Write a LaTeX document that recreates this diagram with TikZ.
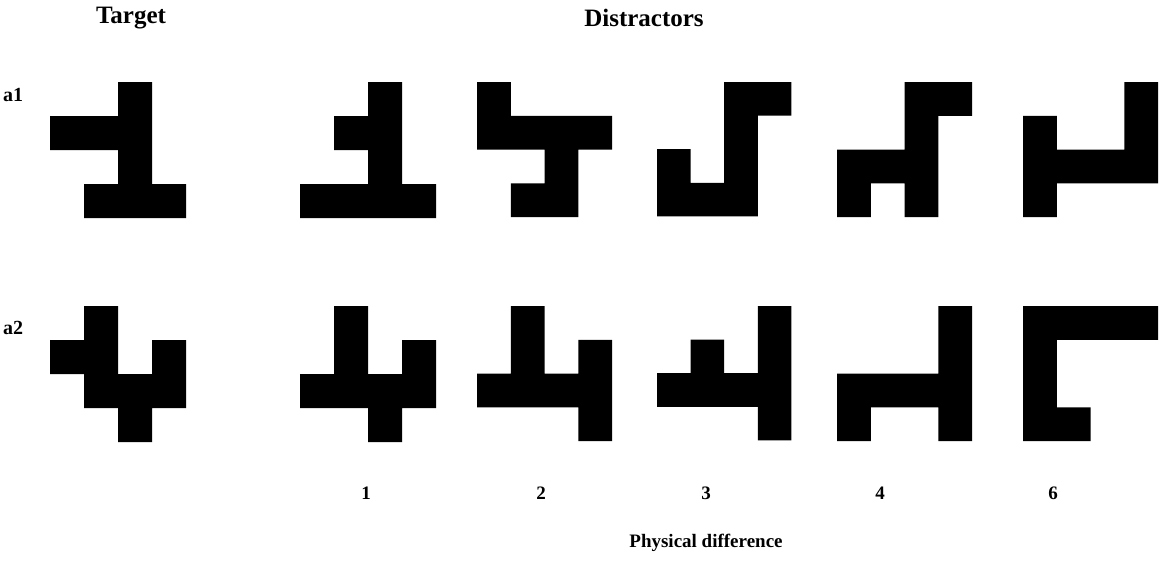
\documentclass[tikz,border=0pt]{standalone}
\usepackage{fontspec}
\setmainfont{Liberation Serif}
\begin{document}
\begin{tikzpicture}[x=1pt,y=-1pt,
  lbl/.style={font=\fontsize{20}{24}\selectfont\bfseries, inner sep=0pt, anchor=center},
  head/.style={font=\fontsize{25}{30}\selectfont\bfseries, inner sep=0pt, anchor=center},
  foot/.style={font=\fontsize{19}{23}\selectfont\bfseries, inner sep=0pt, anchor=center},
  shapefill/.style={fill=black}]
\useasboundingbox (0,0) rectangle (1166,563);
\newcommand\pshape[4]{\fill[shapefill] \foreach \c/\r in {#4} { (#1+\c*#3, #2+\r*#3) rectangle ++(#3,#3) };}
% headers
\node[head] (target) at (131,18) {Target};
\node[head] (distr) at (644,18) {Distractors};
\node[lbl] (a1) at (13,95) {a1};
\node[lbl] (a2) at (13,328) {a2};
% row a1
\pshape{50}{82}{34}{2/0,0/1,1/1,2/1,2/2,1/3,2/3,3/3}
\pshape{300}{82}{34}{2/0,1/1,2/1,2/2,0/3,1/3,2/3,3/3}
\pshape{477}{82}{33.75}{0/0,0/1,1/1,2/1,3/1,2/2,1/3,2/3}
\pshape{657}{82}{33.6}{2/0,3/0,2/1,0/2,2/2,0/3,1/3,2/3}
\pshape{837}{82}{33.75}{2/0,3/0,2/1,0/2,1/2,2/2,0/3,2/3}
\pshape{1023}{82}{33.75}{3/0,0/1,3/1,0/2,1/2,2/2,3/2,0/3}
% row a2
\pshape{50}{306}{34}{1/0,0/1,1/1,3/1,1/2,2/2,3/2,2/3}
\pshape{300}{306}{34}{1/0,1/1,3/1,0/2,1/2,2/2,3/2,2/3}
\pshape{477}{306}{33.75}{1/0,1/1,3/1,0/2,1/2,2/2,3/2,3/3}
\pshape{657}{306}{33.6}{3/0,1/1,3/1,0/2,1/2,2/2,3/2,3/3}
\pshape{837}{306}{33.75}{3/0,3/1,0/2,1/2,2/2,3/2,0/3,3/3}
\pshape{1023}{306}{33.75}{0/0,1/0,2/0,3/0,0/1,0/2,0/3,1/3}
% numbers
\node[foot] (n1) at (366,493) {1};
\node[foot] (n2) at (541,493) {2};
\node[foot] (n3) at (706,493) {3};
\node[foot] (n4) at (880,493) {4};
\node[foot] (n6) at (1053,493) {6};
\node[foot] (phys) at (706,543) {Physical difference};
\end{tikzpicture}
\end{document}
